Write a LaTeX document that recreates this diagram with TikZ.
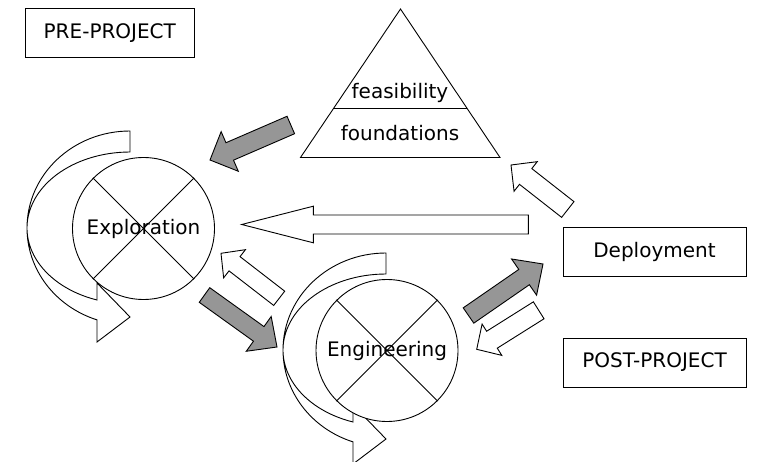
\documentclass[tikz,border=0pt]{standalone}
\usepackage{fontspec}
\setmainfont{DejaVu Sans}
\usepackage{tikz}
\usetikzlibrary{calc}
\definecolor{arrowgray}{RGB}{150,150,150}

% block arrow: [fill]{tail}{tip}{half shaft}{half head}{head length}
\newcommand{\blockarrow}[6][white]{%
  \coordinate (ba-h) at ($(#3)!#6!(#2)$);
  \draw[fill=#1] ($(#2)!#4!90:(#3)$) -- ($(ba-h)!#4!-90:(#2)$) -- ($(ba-h)!#5!-90:(#2)$)
    -- (#3) -- ($(ba-h)!#5!90:(#2)$) -- ($(ba-h)!#4!90:(#2)$) -- ($(#2)!#4!-90:(#3)$) -- cycle;}

\tikzset{
  labelbox/.style={draw, fill=white, minimum height=49pt, inner sep=0pt,
    font=\fontsize{20}{24}\selectfont},
  phase/.style={draw, fill=white, circle, minimum size=142pt, inner sep=0pt,
    font=\fontsize{20}{24}\selectfont},
  loop arrow/.pic={
    \draw[fill=white] (0,97) arc[start angle=90, end angle=251.3, x radius=103, y radius=97]
      -- (-33,-114) -- (0,-89) -- (-33,-55) -- (-33,-72)
      arc[start angle=251.3, end angle=90, x radius=103, y radius=76] -- cycle;
  }
}

\begin{document}
\begin{tikzpicture}[x=1pt, y=1pt, line width=.9pt, line join=miter]
  \useasboundingbox (0,0) rectangle (759,-462);

  % looping arrows behind the circles
  \pic at (130,-228) {loop arrow};
  \pic at (386,-350) {loop arrow};

  % phases
  \node[phase] (explo) at (143.5,-228.5) {};
  \draw (explo.45) -- (explo.225) (explo.135) -- (explo.315);
  \node[font=\fontsize{20}{24}\selectfont] at (explo) {Exploration};

  \node[phase] (engin) at (387,-350.5) {};
  \draw (engin.45) -- (engin.225) (engin.135) -- (engin.315);
  \node[font=\fontsize{20}{24}\selectfont] at (engin) {Engineering};

  % triangle
  \coordinate (apex) at (400.5,-9);
  \coordinate (tl) at (300.5,-157.5);
  \coordinate (tr) at (500,-157.5);
  \draw (apex) -- (tl) -- (tr) -- cycle;
  \draw ($(apex)!0.669!(tl)$) -- ($(apex)!0.669!(tr)$);
  \node[font=\fontsize{20}{24}\selectfont] (feas) at (400,-93) {feasibility};
  \node[font=\fontsize{20}{24}\selectfont] (found) at (400,-133) {foundations};

  % boxes
  \node[labelbox, minimum width=169pt] (pre) at (109.8,-32.8) {PRE-PROJECT};
  \node[labelbox, minimum width=183pt] (deploy) at (654.5,-251.5) {Deployment};
  \node[labelbox, minimum width=183pt] (post) at (654.5,-362.5) {POST-PROJECT};

  % arrow ends
  \coordinate (a1) at (290.8,-125);   \coordinate (b1) at (210,-160);
  \coordinate (a2) at (528.3,-224.5); \coordinate (b2) at (241.7,-224.5);
  \coordinate (a3) at (279.2,-298.3); \coordinate (b3) at (221,-253.3);
  \coordinate (a4) at (204.5,-295);   \coordinate (b4) at (277,-347);
  \coordinate (a5) at (468.5,-315.5); \coordinate (b5) at (543,-264);
  \coordinate (a6) at (538.7,-310.3); \coordinate (b6) at (476.7,-349.3);
  \coordinate (a7) at (567.8,-209.5); \coordinate (b7) at (511,-165);

  \blockarrow[arrowgray]{a1}{b1}{9.5pt}{21.6pt}{21.5pt}
  \blockarrow{a2}{b2}{9.5pt}{18.3pt}{71.6pt}
  \blockarrow{a3}{b3}{9pt}{17.8pt}{17.1pt}
  \blockarrow[arrowgray]{a4}{b4}{9pt}{21.4pt}{22.5pt}
  \blockarrow[arrowgray]{a5}{b5}{9.3pt}{22pt}{23pt}
  \blockarrow{a6}{b6}{10pt}{18.5pt}{18pt}
  \blockarrow{a7}{b7}{10pt}{18.8pt}{18.6pt}
\end{tikzpicture}
\end{document}
